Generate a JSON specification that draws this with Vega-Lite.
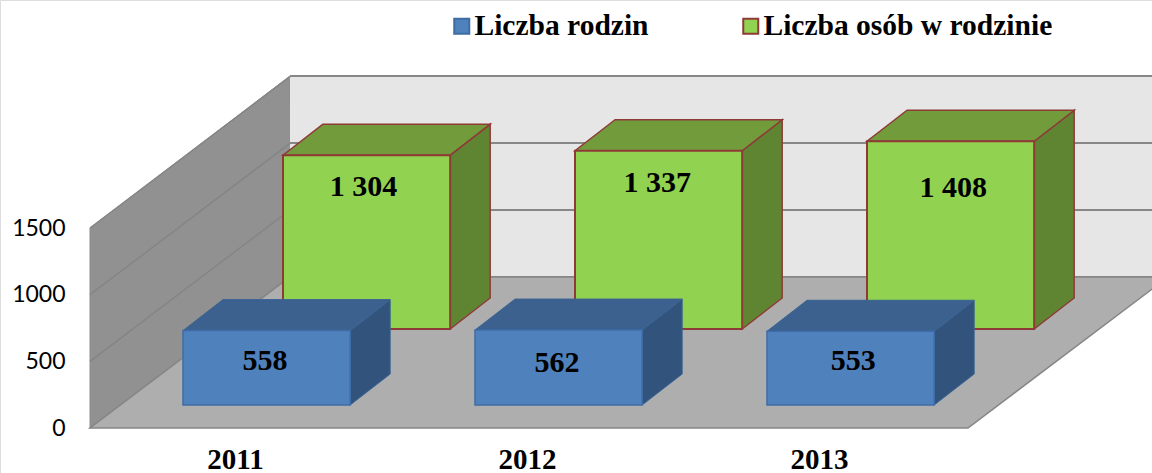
{
"$schema":"https://vega.github.io/schema/vega-lite/v6.json",
"width":1152,"height":473,"padding":0,"autosize":{"type":"none"},"background":"#ffffff",
"datasets":{
 "bars":[
  {"year":2011,"series":"Liczba rodzin","value":558},
  {"year":2012,"series":"Liczba rodzin","value":562},
  {"year":2013,"series":"Liczba rodzin","value":553},
  {"year":2011,"series":"Liczba osób w rodzinie","value":1304},
  {"year":2012,"series":"Liczba osób w rodzinie","value":1337},
  {"year":2013,"series":"Liczba osób w rodzinie","value":1408}],
 "levels":[{"level":0},{"level":500},{"level":1000},{"level":1500}]
},
"data":{"name":"levels"},
"encoding":{
 "x":{"type":"quantitative","scale":{"domain":[2010.19521,2014.14041],"nice":false,"zero":false},
  "axis":{"title":null,"values":[2011,2012,2013],"format":"d","grid":false,"domain":false,"ticks":false,"labelPadding":-28,"labelFont":"Liberation Serif","labelFontWeight":"bold","labelFontSize":29,"labelColor":"#000000","labelFlush":false,"labelOverlap":false}},
 "y":{"type":"quantitative","scale":{"domain":[-337.5,3210],"nice":false,"zero":false},
  "axis":{"title":null,"values":[0,500,1000,1500],"format":"d","grid":false,"domain":false,"ticks":false,"labelPadding":-65,"labelFont":"Lato","labelFontSize":23,"labelColor":"#000000","labelOverlap":false,"labelFlush":false}}
},
"layer":[
 {"transform":[{"filter":"datum.level==1500"},{"calculate":"[0,1]","as":"t"},{"flatten":["t"]},
   {"calculate":"2010.5034+datum.t*0.6849","as":"xp"},{"calculate":"datum.t*1132.5","as":"lo"},{"calculate":"datum.level+datum.t*1140","as":"hi"}],
  "mark":{"type":"area","orient":"vertical","fill":"#919191","stroke":"#8f8f8f","strokeWidth":1},
  "encoding":{"x":{"field":"xp"},"y":{"field":"lo"},"y2":{"field":"hi"}}},
 {"transform":[{"filter":"datum.level==1500"},{"calculate":"2011.1884","as":"xa"},{"calculate":"2014.14041","as":"xb"},{"calculate":"1132.5","as":"lo"},{"calculate":"2640","as":"hi"}],
  "mark":{"type":"rect","fill":"#e6e6e6","clip":true},
  "encoding":{"x":{"field":"xa"},"x2":{"field":"xb"},"y":{"field":"lo"},"y2":{"field":"hi"}}},
 {"transform":[{"calculate":"2011.1884","as":"xa"},{"calculate":"2014.14041","as":"xb"},{"calculate":"1132.5+datum.level*1.005","as":"yy"}],
  "mark":{"type":"rule","stroke":"#878787","strokeWidth":2,"clip":true},
  "encoding":{"x":{"field":"xa"},"x2":{"field":"xb"},"y":{"field":"yy"}}},
 {"transform":[{"calculate":"[0,1]","as":"t"},{"flatten":["t"]},{"calculate":"2010.5034+datum.t*0.6849","as":"xp"},{"calculate":"datum.level+datum.t*1135","as":"yy"}],
  "mark":{"type":"line","stroke":"#858585","strokeWidth":1.5},
  "encoding":{"x":{"field":"xp"},"y":{"field":"yy"},"detail":{"field":"level"}}},
 {"transform":[{"filter":"datum.level==0"},{"calculate":"[0,1]","as":"t"},{"flatten":["t"]},
   {"calculate":"datum.t*1132.5","as":"yy"},{"calculate":"2010.5034+datum.t*0.6849","as":"xa"},{"calculate":"2013.5103+datum.t*0.6849","as":"xb"}],
  "mark":{"type":"area","orient":"horizontal","fill":"#aeaeae","stroke":"#868686","strokeWidth":1.5,"clip":true},
  "encoding":{"y":{"field":"yy"},"x":{"field":"xa"},"x2":{"field":"xb"}}},
 {"data":{"name":"bars"},
  "transform":[
   {"calculate":"datum.series=='Liczba rodzin'?datum.year-0.1781:datum.year+0.1644","as":"left"},
   {"calculate":"datum.left+0.5725","as":"right"},
   {"calculate":"datum.series=='Liczba rodzin'?172.5:742.5","as":"base"},
   {"calculate":"datum.base+datum.value","as":"top"}],
  "layer":[
   {"transform":[{"filter":"datum.series!='Liczba rodzin'"}],
    "layer":[
     {"transform":[{"calculate":"[0,1]","as":"t"},{"flatten":["t"]},{"calculate":"datum.right+datum.t*0.137","as":"xp"},{"calculate":"datum.base+datum.t*232.5","as":"lo"},{"calculate":"datum.top+datum.t*232.5","as":"hi"}],
      "mark":{"type":"area","orient":"vertical","fill":"#5f8532","stroke":"#8e3b38","strokeWidth":1.5},
      "encoding":{"x":{"field":"xp"},"y":{"field":"lo"},"y2":{"field":"hi"},"detail":{"field":"year"}}},
     {"transform":[{"calculate":"[0,1]","as":"t"},{"flatten":["t"]},{"calculate":"datum.top+datum.t*232.5","as":"yy"},{"calculate":"datum.left+datum.t*0.137","as":"xa"},{"calculate":"datum.right+datum.t*0.137","as":"xb"}],
      "mark":{"type":"area","orient":"horizontal","fill":"#729c3c","stroke":"#8e3b38","strokeWidth":1.5},
      "encoding":{"y":{"field":"yy"},"x":{"field":"xa"},"x2":{"field":"xb"},"detail":{"field":"year"}}},
     {"mark":{"type":"rect","strokeWidth":2},
      "encoding":{"x":{"field":"left"},"x2":{"field":"right"},"y":{"field":"base"},"y2":{"field":"top"},
       "fill":{"field":"series","type":"nominal","scale":{"domain":["Liczba rodzin","Liczba osób w rodzinie"],"range":["#4f81bd","#91d350"]},"legend":{"title":null,"orient":"none","legendX":447,"legendY":11,"direction":"horizontal","symbolType":"square","symbolSize":225,"symbolStrokeWidth":2,"symbolOpacity":1,"labelFont":"Liberation Serif","labelFontWeight":"bold","labelFontSize":29.5,"labelColor":"#000000","labelOffset":-2,"labelLimit":400,"columnPadding":87,"padding":0}},
       "stroke":{"field":"series","type":"nominal","scale":{"domain":["Liczba rodzin","Liczba osób w rodzinie"],"range":["#3f6ca5","#8e3b38"]},"legend":{"title":null,"orient":"none","legendX":447,"legendY":11,"direction":"horizontal","symbolType":"square","symbolSize":225,"symbolStrokeWidth":2,"symbolOpacity":1,"labelFont":"Liberation Serif","labelFontWeight":"bold","labelFontSize":29.5,"labelColor":"#000000","labelOffset":-2,"labelLimit":400,"columnPadding":87,"padding":0}}}}
    ]},
   {"transform":[{"filter":"datum.series=='Liczba rodzin'"}],
    "layer":[
     {"transform":[{"calculate":"[0,1]","as":"t"},{"flatten":["t"]},{"calculate":"datum.right+datum.t*0.137","as":"xp"},{"calculate":"datum.base+datum.t*232.5","as":"lo"},{"calculate":"datum.top+datum.t*232.5","as":"hi"}],
      "mark":{"type":"area","orient":"vertical","fill":"#31537c","stroke":"#3a6494","strokeWidth":1},
      "encoding":{"x":{"field":"xp"},"y":{"field":"lo"},"y2":{"field":"hi"},"detail":{"field":"year"}}},
     {"transform":[{"calculate":"[0,1]","as":"t"},{"flatten":["t"]},{"calculate":"datum.top+datum.t*232.5","as":"yy"},{"calculate":"datum.left+datum.t*0.137","as":"xa"},{"calculate":"datum.right+datum.t*0.137","as":"xb"}],
      "mark":{"type":"area","orient":"horizontal","fill":"#3c618f","stroke":"#3a6494","strokeWidth":1},
      "encoding":{"y":{"field":"yy"},"x":{"field":"xa"},"x2":{"field":"xb"},"detail":{"field":"year"}}},
     {"mark":{"type":"rect","strokeWidth":1.5},
      "encoding":{"x":{"field":"left"},"x2":{"field":"right"},"y":{"field":"base"},"y2":{"field":"top"},
       "fill":{"field":"series","type":"nominal"},
       "stroke":{"field":"series","type":"nominal"}}}
    ]},
   {"transform":[
     {"calculate":"(datum.left+datum.right)/2-(datum.year==2013?-0.009:datum.year==2011&&datum.series!='Liczba rodzin'?0.011:0.005)","as":"cx"},
     {"calculate":"datum.series=='Liczba rodzin'?(datum.year==2012?datum.top-247:datum.top-225):(datum.year==2013?datum.top-352:datum.top-240)","as":"ly"},
     {"calculate":"replace(format(datum.value,','),',',' ')","as":"txt"}],
    "mark":{"type":"text","font":"Liberation Serif","fontWeight":"bold","fontSize":30,"color":"#000000","align":"center","baseline":"middle"},
    "encoding":{"x":{"field":"cx"},"y":{"field":"ly"},"text":{"field":"txt"}}}
  ]}
]
}
